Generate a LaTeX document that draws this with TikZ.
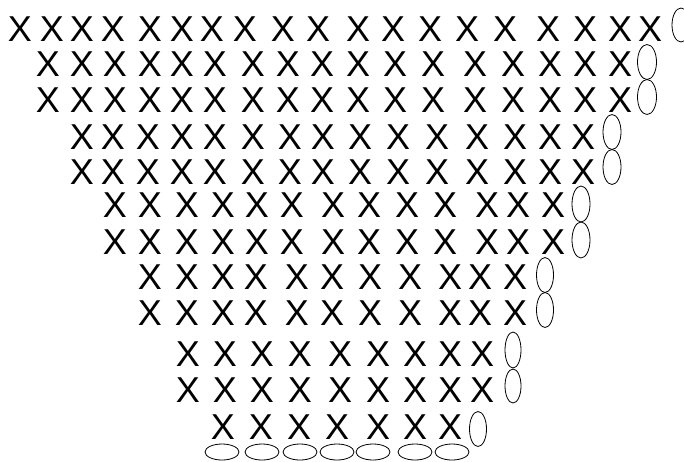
\documentclass[tikz,border=0pt]{standalone}
\usepackage{fontspec}
\setmainfont{Liberation Sans}

\begin{document}
\begin{tikzpicture}[x=1pt, y=-1pt,
  stitch/.style={inner sep=0pt, font=\fontsize{36}{36}\selectfont},
  chain/.style={line width=0.8pt}]
\useasboundingbox (0,0) rectangle (684,461);

% Row 1
\foreach \x [count=\i] in {20,52,82,113,150,182,212,245,283,318,358,393,430,467,505,548,585,620,650}
  \node[stitch] (r1-\i) at (\x,29) {X};
\draw[chain] (681,25) ellipse (9 and 17);

% Rows 2 and 3
\foreach \r/\y in {2/64, 3/100}
  \foreach \x [count=\i] in {48,82,115,150,182,215,253,288,322,358,395,433,475,513,550,585,620}
    \node[stitch] (r\r-\i) at (\x,\y) {X};
\draw[chain] (647,62) ellipse (9.5 and 17.5);
\draw[chain] (647,97) ellipse (9.5 and 17.5);

% Rows 4 and 5
\foreach \r/\y in {4/137, 5/172}
  \foreach \x [count=\i] in {82,113,148,182,215,253,290,323,360,398,437,477,515,550,583}
    \node[stitch] (r\r-\i) at (\x,\y) {X};
\draw[chain] (612,132) ellipse (9 and 17.5);
\draw[chain] (612,167) ellipse (9 and 17.5);

% Rows 6 and 7
\foreach \r/\y in {6/205, 7/242}
  \foreach \x [count=\i] in {115,150,187,223,257,292,333,369,407,445,487,518,553}
    \node[stitch] (r\r-\i) at (\x,\y) {X};
\draw[chain] (581,204) ellipse (9 and 18);
\draw[chain] (581,240) ellipse (9 and 18);

% Rows 8 and 9
\foreach \r/\y in {8/277, 9/313}
  \foreach \x [count=\i] in {150,187,223,256,297,332,370,410,450,480,515}
    \node[stitch] (r\r-\i) at (\x,\y) {X};
\draw[chain] (545,275) ellipse (8.5 and 17.5);
\draw[chain] (545,310) ellipse (8.5 and 17.5);

% Rows 10 and 11
\foreach \r/\y in {10/354, 11/390}
  \foreach \x [count=\i] in {188,225,262,300,340,378,415,450,482}
    \node[stitch] (r\r-\i) at (\x,\y) {X};
\draw[chain] (513,350) ellipse (8 and 18);
\draw[chain] (513,386) ellipse (8 and 17);

% Row 12
\foreach \x [count=\i] in {223,261,299,337,378,415,450}
  \node[stitch] (r12-\i) at (\x,427) {X};
\draw[chain] (478,429) ellipse (8.5 and 17.5);

% Foundation chain
\foreach \x in {222,262,300,337,373,415,452}
  \draw[chain] (\x,452) ellipse (17 and 8);
\end{tikzpicture}
\end{document}
